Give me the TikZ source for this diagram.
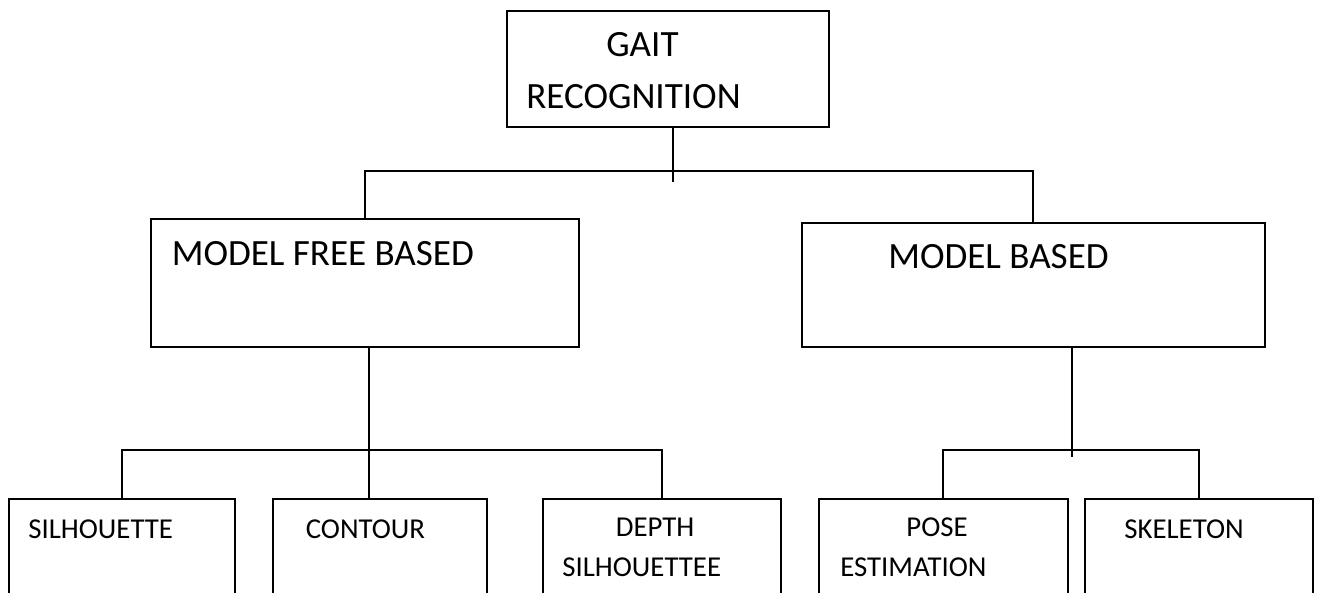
\documentclass[tikz,border=0pt]{standalone}
\usepackage{fontspec}
\setmainfont{Carlito}
\usepackage{xcolor}
\usepackage{tikz}
\usetikzlibrary{positioning, calc}
\definecolor{gaitInk}{HTML}{000000}
\tikzset{
  catbox/.style={
    rectangle, draw=gaitInk, line width=1.1pt,
    inner sep=0pt, anchor=north west
  },
  bigtext/.style={
    anchor=base west, inner sep=0pt, align=left,
    font=\fontsize{21.1pt}{29.1pt}\selectfont
  },
  leaftext/.style={
    anchor=base west, inner sep=0pt, align=left,
    font=\fontsize{16.4pt}{22.7pt}\selectfont
  },
  link/.style={gaitInk, line width=1.1pt}
}

\begin{document}
\begin{tikzpicture}[x=0.02cm, y=-0.02cm]
      \clip (0,0) rectangle (1317,592);
      % boxes
      \node[catbox, minimum width=6.44cm, minimum height=2.32cm] (gait) at (506,10) {};
      \node[catbox, minimum width=8.56cm, minimum height=2.56cm] (free) at (150,218) {};
      \node[catbox, minimum width=9.26cm, minimum height=2.48cm] (model) at (801,222) {};
      \node[catbox, minimum width=4.52cm, minimum height=2.6cm] (silh) at (8,498) {};
      \node[catbox, minimum width=4.28cm, minimum height=2.6cm] (contour) at (272,498) {};
      \node[catbox, minimum width=4.76cm, minimum height=2.6cm] (depth) at (542,498) {};
      \node[catbox, minimum width=4.98cm, minimum height=2.6cm] (pose) at (818,498) {};
      \node[catbox, minimum width=4.56cm, minimum height=2.6cm] (skel) at (1084,498) {};
      % texts (base is the last line)
      \node[bigtext] (gaittxt) at (526,108) {\hspace*{1.6cm}GAIT\\RECOGNITION};
      \node[bigtext] (freetxt) at (171.5,265) {MODEL FREE BASED};
      \node[bigtext] (modeltxt) at (888,268) {MODEL BASED};
      \node[leaftext] (silhtxt) at (28,538) {SILHOUETTE};
      \node[leaftext] (contourtxt) at (305.5,538) {CONTOUR};
      \node[leaftext] (depthtxt) at (562,576.7) {\hspace*{1.07cm}DEPTH\\SILHOUETTEE};
      \node[leaftext] (posetxt) at (840,576.7) {\hspace*{1.32cm}POSE\\ESTIMATION};
      \node[leaftext] (skeltxt) at (1124,538) {SKELETON};
      % joints
      \coordinate (rootjoin) at (673,171);
      \coordinate (freejoin) at (369,450);
      \coordinate (modeljoin) at (1072,450);
      % connectors
      \draw[link] (gait.south -| rootjoin) -- ++(0,54);
      \draw[link] (free.north) |- (model.north |- rootjoin) -- (model.north);
      \draw[link] (free.south -| freejoin) -- (contour.north -| freejoin);
      \draw[link] (silh.north) |- (depth.north |- freejoin) -- (depth.north);
      \draw[link] (model.south -| modeljoin) -- ++(0,109);
      \draw[link] (pose.north) |- (skel.north |- modeljoin) -- (skel.north);
    \end{tikzpicture}
\end{document}
